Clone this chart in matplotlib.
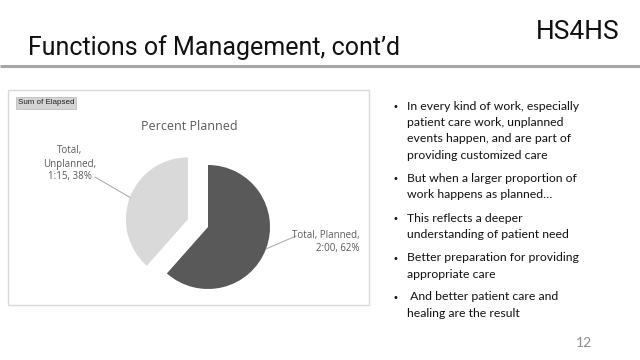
import numpy as np
import matplotlib.pyplot as plt
from matplotlib.patches import Rectangle

# data
categories = ["Planned", "Unplanned"]
minutes = [120, 75]          # 2:00 and 1:15
time_labels = ["2:00", "1:15"]
pie_colors = ["#595959", "#d9d9d9"]

bullets = [
    "In every kind of work, especially\npatient care work, unplanned\nevents happen, and are part of\nproviding customized care",
    "But when a larger proportion of\nwork happens as planned…",
    "This reflects a deeper\nunderstanding of patient need",
    "Better preparation for providing\nappropriate care",
    " And better patient care and\nhealing are the result",
]

W, H = 640, 360
fig = plt.figure(figsize=(6.4, 3.6), dpi=100)
fig.patch.set_facecolor("white")

# one axes in pixel coordinates (y up)
ax = fig.add_axes([0, 0, 1, 1])
ax.set_xlim(0, W)
ax.set_ylim(0, H)
ax.set_aspect("equal")
ax.axis("off")


def py(y):
    # convert a top-down pixel row into axes y
    return H - y


# header
ax.text(28, py(55), "Functions of Management, cont\u2019d", fontsize=18,
        family="Roboto", color="#111111", va="baseline", ha="left")
ax.text(619, py(39), "HS4HS", fontsize=19, family="Roboto",
        color="#111111", va="baseline", ha="right")
ax.plot([0, W], [py(66), py(66)], color="#a6a6a6", lw=2.2,
        solid_capstyle="butt")

# chart frame
ax.add_patch(Rectangle((8, py(305)), 361, 215, fill=False,
                       edgecolor="#d9d9d9", lw=1))
ax.add_patch(Rectangle((16, py(109)), 60, 12, facecolor="#d4d4d4",
                       edgecolor="#bfbfbf", lw=0.6))
ax.text(18, py(103), "Sum of Elapsed", fontsize=5.8, family="Liberation Sans",
        color="#222222", va="center", ha="left")
ax.text(189, py(127), "Percent Planned", fontsize=9, family="Open Sans",
        color="#595959", va="center", ha="center")

# pie (explode is in the same units as the radius here)
total = sum(minutes)
cx, cy, r = 208, py(227), 62
wedges, _ = ax.pie(minutes, colors=pie_colors, startangle=90,
                   counterclock=False, explode=[0, 21.5], radius=r,
                   center=(cx, cy), frame=True)
ax.set_xlim(0, W)
ax.set_ylim(0, H)
ax.axis("off")

pct = [round(100 * m / total) for m in minutes]
label_text = {
    "Planned": "Total, Planned,\n%s, %d%%" % (time_labels[0], pct[0]),
    "Unplanned": "Total,\nUnplanned,\n%s, %d%%" % (time_labels[1], pct[1]),
}
label_pos = {"Planned": (360, py(242)), "Unplanned": (70, py(164))}
label_ha = {"Planned": "right", "Unplanned": "center"}
line_end = {"Planned": (296, py(236)), "Unplanned": (95, py(177))}

for w, cat in zip(wedges, categories):
    mid = np.deg2rad((w.theta1 + w.theta2) / 2)
    wx = w.center[0] + w.r * np.cos(mid)
    wy = w.center[1] + w.r * np.sin(mid)
    ax.plot([wx, line_end[cat][0]], [wy, line_end[cat][1]],
            color="#a6a6a6", lw=0.7)
    ax.text(*label_pos[cat], label_text[cat], fontsize=7, family="Open Sans",
            color="#595959", ha=label_ha[cat], va="center",
            linespacing=1.25, multialignment=label_ha[cat])

# bullets
y = 106
for b in bullets:
    lines = b.split("\n")
    ax.text(392, py(y + 1), "\u2022", fontsize=7, color="#111111",
            va="center", ha="left", family="DejaVu Sans")
    for ln in lines:
        ax.text(407, py(y), ln, fontsize=8.8, family="Lato",
                color="#111111", va="center", ha="left")
        y += 16.5
    y += 6.5

ax.text(592, py(343), "12", fontsize=10, family="Lato", color="#8c8c8c",
        va="center", ha="right")

plt.savefig("out.png", dpi=100)
plt.close(fig)
